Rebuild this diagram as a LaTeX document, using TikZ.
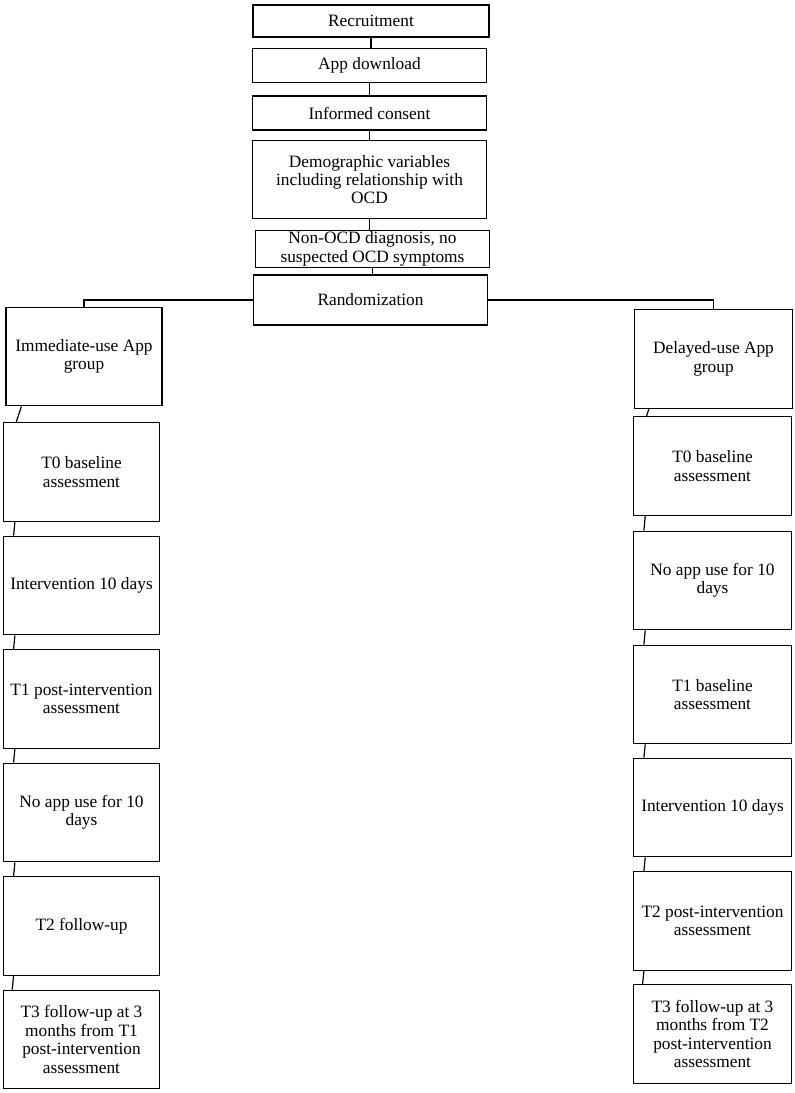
\documentclass[tikz,border=0pt]{standalone}
\usepackage{fontspec}
\setmainfont{Liberation Serif}
\usetikzlibrary{positioning}
\tikzset{
    box/.style={rectangle,draw=black,line width=0.9pt,align=center,inner sep=1pt,font=\fontsize{13}{13.8}\selectfont},
    mbox/.style={box,minimum width=175pt},
    sbox/.style={box,minimum width=117pt,minimum height=74pt},
    flow/.style={
        every edge/.style={draw,line width=0.9pt},
    }
}
\begin{document}
\begin{tikzpicture}[x=0.75pt,y=-0.75pt,flow]
\useasboundingbox (0,0) rectangle (794,1093);
% main line
\node[mbox,minimum width=177pt,minimum height=24pt] (rec) at (371,21) {Recruitment};
\node[mbox,minimum height=26pt] (app) at (369.5,65.5) {App download};
\node[mbox,minimum height=25.5pt] (cons) at (369.5,113) {Informed consent};
\node[mbox,minimum height=58pt] (demo) at (369.5,179.5) {Demographic variables\\including relationship with\\OCD};
\node[mbox,minimum height=27pt] (nonocd) at (372.5,249) {Non-OCD diagnosis, no\\suspected OCD symptoms};
\node[mbox,minimum height=37.5pt] (rand) at (370.5,300) {Randomization};
% groups
\node[sbox] (imm) at (84,356.5) {Immediate-use App\\group};
\node[sbox,minimum width=118pt] (del) at (713.5,359) {Delayed-use App\\group};
% left arm
\node[sbox] (l0) at (81.5,472) {T0 baseline\\assessment};
\node[sbox] (l1) at (81.5,585.5) {Intervention 10 days};
\node[sbox] (l2) at (81.5,699) {T1 post-intervention\\assessment};
\node[sbox] (l3) at (81.5,812.5) {No app use for 10\\days};
\node[sbox] (l4) at (81.5,926) {T2 follow-up};
\node[sbox] (l5) at (81.5,1039.5) {T3 follow-up at 3\\months from T1\\post-intervention\\assessment};
% right arm
\node[sbox,minimum width=118pt] (r0) at (712.5,466) {T0 baseline\\assessment};
\node[sbox,minimum width=118pt] (r1) at (712.5,580.5) {No app use for 10\\days};
\node[sbox,minimum width=118pt] (r2) at (712.5,694.5) {T1 baseline\\assessment};
\node[sbox,minimum width=118pt] (r3) at (712.5,807.5) {Intervention 10 days};
\node[sbox,minimum width=118pt] (r4) at (712.5,921) {T2 post-intervention\\assessment};
\node[sbox,minimum width=118pt] (r5) at (712.5,1034) {T3 follow-up at 3\\months from T2\\post-intervention\\assessment};
\path
    (rec.south) edge (rec.south |- app.north)
    (app.south) edge (app.south |- cons.north)
    (cons.south) edge (cons.south |- demo.north)
    (demo.south) edge (demo.south |- nonocd.north)
    (nonocd.south) edge (nonocd.south |- rand.north)
;
\draw[line width=0.9pt] (rand.west) -| (imm.north);
\draw[line width=0.9pt] (rand.east) -| (del.north);
\path
    ([xshift=12pt]imm.south west) edge ([xshift=10pt]l0.north west)
    ([xshift=9pt]l0.south west) edge ([xshift=8pt]l1.north west)
    ([xshift=9pt]l1.south west) edge ([xshift=8pt]l2.north west)
    ([xshift=9pt]l2.south west) edge ([xshift=8pt]l3.north west)
    ([xshift=9pt]l3.south west) edge ([xshift=8pt]l4.north west)
    ([xshift=8pt]l4.south west) edge ([xshift=7pt]l5.north west)
    ([xshift=11pt]del.south west) edge ([xshift=10pt]r0.north west)
    ([xshift=9pt]r0.south west) edge ([xshift=8pt]r1.north west)
    ([xshift=9pt]r1.south west) edge ([xshift=8pt]r2.north west)
    ([xshift=9pt]r2.south west) edge ([xshift=8pt]r3.north west)
    ([xshift=9pt]r3.south west) edge ([xshift=8pt]r4.north west)
    ([xshift=8pt]r4.south west) edge ([xshift=7pt]r5.north west)
;
\end{tikzpicture}
\end{document}
